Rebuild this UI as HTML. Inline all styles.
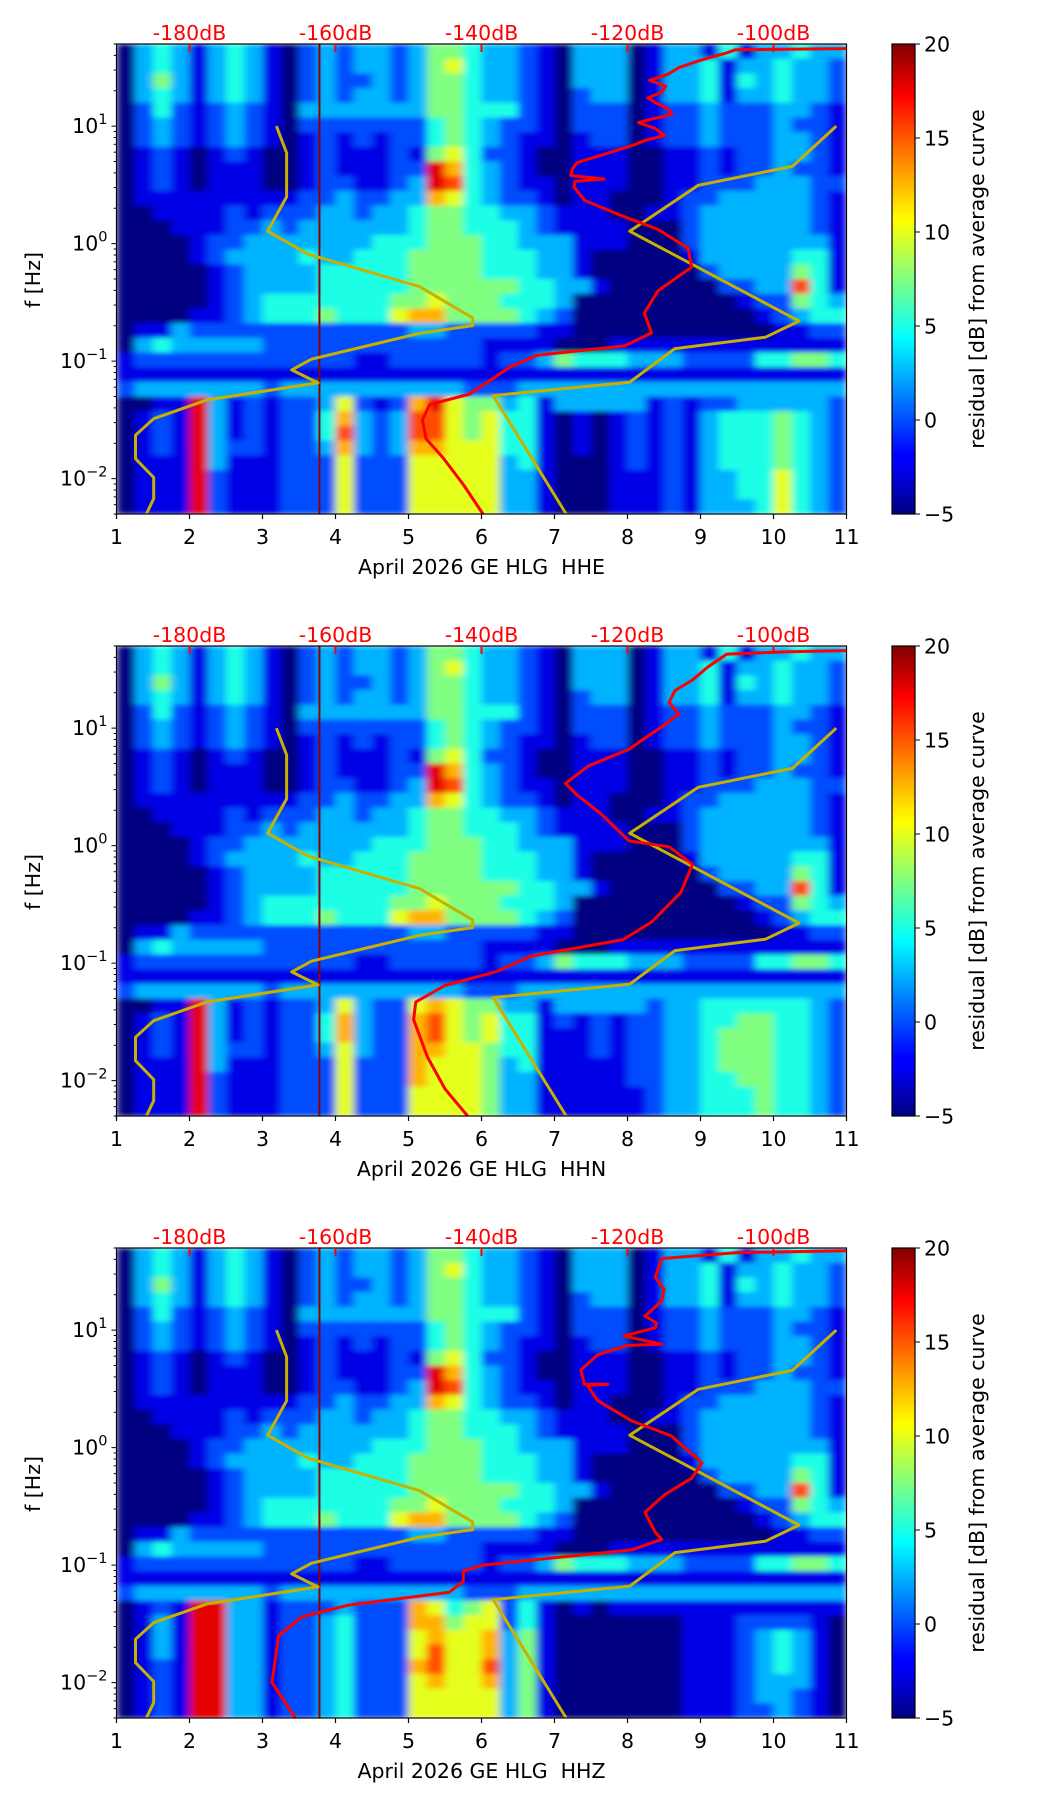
<!DOCTYPE html>
<html><head><meta charset="utf-8"><style>
html,body{margin:0;padding:0;background:#fff;}
svg{display:block;font-family:"DejaVu Sans","Liberation Sans",sans-serif;}
</style></head><body>
<svg id="fig" width="1052" height="1806" viewBox="0 0 1052 1806" xmlns="http://www.w3.org/2000/svg">
<defs>
<linearGradient id="jet" x1="0" y1="1" x2="0" y2="0">
<stop offset="0" stop-color="#000080"/><stop offset="0.11" stop-color="#0000ff"/><stop offset="0.125" stop-color="#0000ff"/>
<stop offset="0.34" stop-color="#00dcff"/><stop offset="0.375" stop-color="#00ffff"/><stop offset="0.5" stop-color="#80ff80"/>
<stop offset="0.625" stop-color="#ffff00"/><stop offset="0.66" stop-color="#ffe000"/><stop offset="0.89" stop-color="#ff0000"/><stop offset="1" stop-color="#800000"/>
</linearGradient>
<filter id="soft" x="-5%" y="-5%" width="110%" height="110%">
<feGaussianBlur stdDeviation="4 2.5" edgeMode="duplicate"/>
</filter>
</defs>
</svg>
<script>
// ---------- data ----------
const panelTitles = ["April 2026 GE HLG\u00a0\u00a0HHE","April 2026 GE HLG\u00a0\u00a0HHN","April 2026 GE HLG\u00a0\u00a0HHZ"];
const dbTickLabels = ["-180dB","-160dB","-140dB","-120dB","-100dB"];
const dbTickValues = [-180,-160,-140,-120,-100];
const xTickValues = [1,2,3,4,5,6,7,8,9,10,11];
const yTickExps = [1,0,-1,-2];
const cbarTicks = [20,15,10,5,0,-5];
// heatmap: 40 columns (day 1..11, step 0.25) x 32 rows (log f 1.699 .. -2.301); digit d -> residual -5 + 2.5*d
const upperRows = [
"0343134310232332355433210333013314133433",
"0343134310232332356433210333013341334332",
"0353134310232232355433210333013341434332",
"0343134310232332355433210233013341334332",
"0242123210333333355444210222012232223321",
"0232123210222222245432210222012232223221",
"0232123210121212245432110122012232223321",
"0121012100121112156422100111001121223321",
"0121011100121112297432100111001121223221",
"0121011100122112398432110111001122233322",
"0111111111223223376432210110001223333321",
"0011112122233233455443321110011233333321",
"0001112232333333455444321111000233333321",
"0000122333333344455544333111000233333331",
"0000123333433444555544433100000133333441",
"0000012333344444555544433100000023333541",
"0000012333344444555555443310000002233841",
"0000012344444445565554443000000000122543",
"0000112344454446775555432000000000012344",
"0113222222222222332222211000000000001122",
"0343333322222222222211110001111111111111",
"1222222222222112222212235444333222244554",
"1111111111111111111111111111111111111111",
"2333333323333333333222333333333333333333"];
const lowerRowsHHE = [
"0011931212236212796553413333312122333332",
"0121931212247323886564410101212134445432",
"0121931212248323886564410101212134445432",
"0121932212237323776664410101212134445432",
"0111931112226222666663410001212134445432",
"0111921112226222666663310001112133446432",
"0111921112226222666663310001112133446432",
"0111921112226222666663310001112133346432"];
const lowerRowsHHN = [
"0011931212236322676553313333323344444432",
"0121931212247322786564412121223344554432",
"0121931212247322786564411121223345554432",
"0121932212236322776654411121223345554432",
"0111931112226222766653411111223345554432",
"0111921112226222766653311111223344554432",
"0111921112226222666653311111123344454432",
"0111921112226222666653311111123344454432"];
const lowerRowsHHZ = [
"0121993312223222764562410101111111111111",
"0131993312234222775662410000000111222210",
"0131993312234222676673510000000111234310",
"0131993312234222686673510000000111234310",
"0121993312234222786683510000000111234310",
"0121993312234222676673510000000111233310",
"0121993312234222666663510000000111233210",
"0121993312234222666663510000000111223210"];
// noise model curves (frequency exponent, dB)
const nlnmLogF = [1.0,0.772,0.398,0.106,-0.089,-0.366,-0.632,-0.698,-0.763,-0.984,-1.075,-1.185,-1.33,-1.49,-1.63,-1.83,-1.99,-2.17,-2.301];
const nlnmDb = [-168.1,-166.7,-166.7,-169.3,-163.8,-148.5,-141.2,-141.2,-148.5,-163.3,-166.0,-162.4,-177.6,-184.9,-187.4,-187.4,-184.9,-184.9,-185.9];
const nhnmLogF = [1.0,0.658,0.496,0.106,-0.659,-0.796,-0.893,-1.179,-1.293,-2.301];
const nhnmDb = [-91.4,-97.4,-110.3,-119.7,-96.5,-101.1,-113.5,-119.7,-138.4,-128.4];
// median PSD curves per channel
const redLogF1 = [1.66,1.65,1.62,1.59,1.55,1.50,1.44,1.39,1.34,1.29,1.24,1.20,1.15,1.10,1.06,1.03,0.98,0.92,0.88,0.84,0.76,0.69,0.64,0.58,0.55,0.53,0.48,0.37,0.25,0.12,-0.04,-0.20,-0.40,-0.59,-0.76,-0.87,-0.95,-1.05,-1.28,-1.37,-1.50,-1.66,-1.82,-2.05,-2.301];
const redDb1 = [-90,-105.2,-106.6,-108.4,-110.5,-112.9,-114.5,-117,-114.8,-115.3,-117.2,-116.2,-114.5,-113.9,-116.7,-118.5,-116.2,-114.9,-117.5,-119.1,-123.2,-126.9,-127.5,-127.8,-123.2,-127.2,-127.3,-125.9,-121.3,-115.8,-111.7,-111.2,-115.8,-117.7,-116.7,-120.4,-132.4,-136.1,-141.6,-147.1,-148.1,-147.6,-145.3,-142.5,-139.8];
const redLogF2 = [1.66,1.65,1.63,1.52,1.41,1.32,1.22,1.12,1.02,0.92,0.82,0.68,0.53,0.43,0.28,0.04,-0.01,-0.16,-0.40,-0.65,-0.80,-0.94,-1.07,-1.19,-1.33,-1.48,-1.80,-2.07,-2.301];
const redDb2 = [-90,-98,-106.4,-109,-111.1,-113.5,-114.3,-113,-115.1,-117.5,-119.8,-125.3,-128.5,-126.9,-123.8,-119.8,-114.3,-111.1,-112.7,-116.7,-120.6,-133.2,-137.9,-145,-149,-149.3,-147.4,-145,-141.9];
const redLogF3 = [1.675,1.66,1.61,1.45,1.35,1.25,1.18,1.12,1.06,1.02,0.95,0.88,0.87,0.79,0.66,0.54,0.54,0.53,0.40,0.23,0.10,-0.13,-0.26,-0.40,-0.55,-0.72,-0.78,-0.87,-1.00,-1.05,-1.14,-1.23,-1.34,-1.44,-1.60,-2.00,-2.301];
const redDb3 = [-90,-105,-115.3,-116.2,-115,-115.3,-116.5,-117.6,-116,-116.2,-120.5,-115.3,-120,-124.1,-126.4,-125.9,-122.7,-125.5,-124.1,-119.5,-114,-109.8,-111.2,-114.9,-117.6,-116.2,-115.3,-119.4,-139.8,-142.5,-142.5,-144.4,-158.2,-164.6,-167.8,-168.7,-165.5];
const verticalLineDay = 3.78;

// ---------- drawing ----------
const NS = "http://www.w3.org/2000/svg";
const svg = document.getElementById("fig");
const defs = svg.querySelector("defs");
const X0 = 116.5, XW = 730, PH = 470, LOGTOP = 1.69897, DEC = PH/4;
function xs(d){ return X0 + (d-1)/10*XW; }
function xdb(db){ return xs(2 + (db+180)/10); }
function ys(lf, top){ return top + (LOGTOP - lf)*DEC; }
function el(tag, attrs, parent){ const e = document.createElementNS(NS, tag); for (const k in attrs) e.setAttribute(k, attrs[k]); (parent||svg).appendChild(e); return e; }
function clip(v){ return Math.max(0, Math.min(1, v)); }
function jet(t){ const r = clip(1.5-Math.abs(4*t-3)), g = clip(1.5-Math.abs(4*t-2)), b = clip(1.5-Math.abs(4*t-1)); return `rgb(${Math.round(r*255)},${Math.round(g*255)},${Math.round(b*255)})`; }

const lowerSets = [lowerRowsHHE, lowerRowsHHN, lowerRowsHHZ];
const redSets = [[redLogF1, redDb1],[redLogF2, redDb2],[redLogF3, redDb3]];

for (let p = 0; p < 3; p++) {
  const top = 44 + 602*p, bot = top + PH;
  const cp = el("clipPath", {id:"clip"+p}, defs);
  el("rect", {x:X0, y:top, width:XW, height:PH}, cp);
  const g = el("g", {});
  
  
  const rows = upperRows.concat(lowerSets[p]);
  const hmClip = el("g", {"clip-path":`url(#clip${p})`}, g);
  const hm = el("g", {filter:"url(#soft)"}, hmClip);
  
  
  const nR = rows.length, nC = 40;
  for (let r = 0; r < nR; r++) {
    for (let c = 0; c < nC; c++) {
      const v = -5 + 2.5*parseInt(rows[r][c] || "0", 10);
      const x1 = xs(1 + c*0.25), x2 = xs(1.25 + c*0.25);
      const y1 = ys(LOGTOP - r*4/nR, top), y2 = ys(LOGTOP - (r+1)*4/nR, top);
      const cell = el("rect", {x:x1.toFixed(2), y:y1.toFixed(2), width:(x2-x1+0.4).toFixed(2), height:(y2-y1+0.4).toFixed(2), fill:jet((v+5)/25)}, hm);
      
      
    }
  }
  const vl = el("line", {x1:xs(verticalLineDay), x2:xs(verticalLineDay), y1:top, y2:bot, stroke:"#8b0000", "stroke-width":2}, g);
  
  
  function poly(lfs, dbs, color, w, name){
    const pts = lfs.map((lf,i)=> xdb(dbs[i]).toFixed(1)+","+ys(lf, top).toFixed(1)).join(" ");
    const pl = el("polyline", {points:pts, fill:"none", stroke:color, "stroke-width":w, "stroke-linejoin":"round"}, g);
    
    
  }
  poly(nlnmLogF, nlnmDb, "#c8b000", 3, "nlnm-curve");
  poly(nhnmLogF, nhnmDb, "#c8b000", 3, "nhnm-curve");
  poly(redSets[p][0], redSets[p][1], "#ff0000", 3, "median-psd-curve");
  const fr = el("rect", {x:X0, y:top, width:XW, height:PH, fill:"none", stroke:"#000", "stroke-width":1.2}, g);
  
  
  dbTickValues.forEach((db,i)=>{
    const x = xdb(db);
    const t = el("line", {x1:x, x2:x, y1:top, y2:top+8, stroke:"#ff0000", "stroke-width":2}, g);
    
    
    const tx = el("text", {x:x, y:top-4, "text-anchor":"middle", "font-size":"20.5", fill:"#ff0000"}, g);
    tx.textContent = dbTickLabels[i];
    
    
  });
  xTickValues.forEach(v=>{
    const x = xs(v);
    el("line", {x1:x, x2:x, y1:bot, y2:bot+5, stroke:"#000", "stroke-width":1.2}, g);
    const tx = el("text", {x:x, y:bot+30, "text-anchor":"middle", "font-size":"20.5", fill:"#000"}, g);
    tx.textContent = String(v);
    
    
  });
  const xl = el("text", {x:X0+XW/2, y:bot+60, "text-anchor":"middle", "font-size":"20.5", fill:"#000"}, g);
  xl.textContent = panelTitles[p];
  
  
  for (let e = -3; e <= 1; e++) {
    for (let m = 1; m <= 9; m++) {
      const lf = e + Math.log10(m);
      if (lf < -2.302 || lf > LOGTOP + 0.001) continue;
      const y = ys(lf, top);
      el("line", {x1:X0, x2:X0-(m===1?5:2.8), y1:y, y2:y, stroke:"#000", "stroke-width":1}, g);
    }
  }
  yTickExps.forEach(ex=>{
    const y = ys(ex, top);
    const tx = el("text", {x:X0-9, y:y+7, "text-anchor":"end", "font-size":"20.5", fill:"#000"}, g);
    
    
    const b = el("tspan", {}, tx); b.textContent = "10";
    const s = el("tspan", {dy:"-9", "font-size":"14.5"}, tx); s.textContent = ex < 0 ? "\u2212" + (-ex) : String(ex);
  });
  const yl = el("text", {x:0, y:0, transform:`translate(40,${top+236}) rotate(-90)`, "text-anchor":"middle", "font-size":"20.5", fill:"#000"}, g);
  yl.textContent = "f [Hz]";
  
  
  const cb = el("rect", {x:892, y:top, width:23, height:PH, fill:"url(#jet)", stroke:"#000", "stroke-width":1.2}, g);
  
  
  cbarTicks.forEach(v=>{
    const y = top + (20 - v)/25*PH;
    el("line", {x1:915, x2:920, y1:y, y2:y, stroke:"#000", "stroke-width":1}, g);
    const tx = el("text", {x:924, y:y+7.5, "font-size":"20.5", fill:"#000"}, g);
    tx.textContent = v < 0 ? "\u2212" + (-v) : String(v);
    
    
  });
  const cl = el("text", {x:0, y:0, transform:`translate(984,${top+235}) rotate(-90)`, "text-anchor":"middle", "font-size":"20.5", fill:"#000"}, g);
  cl.textContent = "residual [dB] from average curve";
  
  
}
</script>
</body></html>
